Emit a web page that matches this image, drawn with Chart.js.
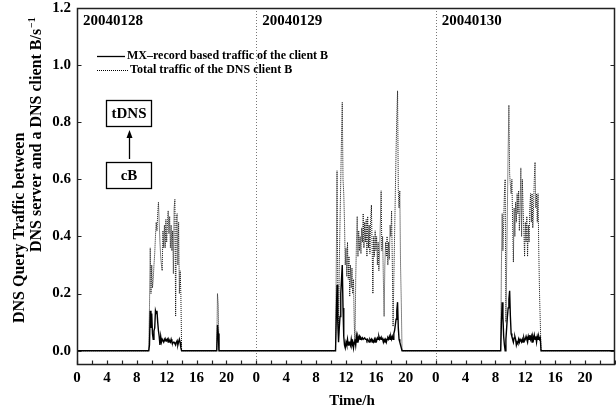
<!DOCTYPE html>
<html>
<head>
<meta charset="utf-8">
<script src="https://cdn.jsdelivr.net/npm/chart.js@4.4.0/dist/chart.umd.min.js"></script>
<style>
  html, body { margin: 0; padding: 0; background: #fff; }
  canvas { display: block; }
</style>
</head>
<body>
<canvas id="dnsChart" width="616" height="411"></canvas>
<script>
// time in hours since 0:00 on 20040128
const hours = [
    0,
    9.6, 9.7, 9.8, 9.9, 10.0, 10.1, 10.2, 10.3, 10.4, 10.5, 10.6, 10.7, 10.8, 10.9, 11.0,
    11.1, 11.2, 11.3, 11.4, 11.5, 11.6, 11.7, 11.8, 11.9, 12.0, 12.1, 12.2, 12.3, 12.4, 12.5,
    12.6, 12.7, 12.8, 12.9, 13.0, 13.1, 13.2, 13.3, 13.4, 13.5, 13.6, 13.7, 13.8, 13.9, 14.0,
    18.7, 18.8, 18.9, 19.0,
    34.6, 34.7, 34.8, 34.9, 35.0, 35.1, 35.2, 35.3, 35.4, 35.5, 35.6, 35.7, 35.8, 35.9, 36.0,
    36.1, 36.2, 36.3, 36.4, 36.5, 36.6, 36.7, 36.8, 36.9, 37.0, 37.1, 37.2, 37.3, 37.4, 37.5,
    37.6, 37.7, 37.8, 37.9, 38.0, 38.1, 38.2, 38.3, 38.4, 38.5, 38.6, 38.7, 38.8, 38.9, 39.0,
    39.1, 39.2, 39.3, 39.4, 39.5, 39.6, 39.7, 39.8, 39.9, 40.0, 40.1, 40.2, 40.3, 40.4, 40.5,
    40.6, 40.7, 40.8, 40.9, 41.0, 41.1, 41.2, 41.3, 41.4, 41.5, 41.6, 41.7, 41.8, 41.9, 42.0,
    42.1, 42.2, 42.3, 42.4, 42.5, 42.6, 42.7, 42.8, 42.9, 43.0, 43.1, 43.2, 43.3, 43.4, 43.5,
    56.7, 56.8, 56.9, 57.0, 57.1, 57.2, 57.3, 57.4, 57.5, 57.6, 57.7, 57.8, 57.9, 58.0, 58.1,
    58.2, 58.3, 58.4, 58.5, 58.6, 58.7, 58.8, 58.9, 59.0, 59.1, 59.2, 59.3, 59.4, 59.5, 59.6,
    59.7, 59.8, 59.9, 60.0, 60.1, 60.2, 60.3, 60.4, 60.5, 60.6, 60.7, 60.8, 60.9, 61.0, 61.1,
    61.2, 61.3, 61.4, 61.5, 61.6, 61.7, 61.8, 61.9, 62.0, 62.1,
    72
];

// MX-record based traffic of the client B
const mxTraffic = [
    0,
    0, 0.02, 0.14, 0.08, 0.13, 0.06, 0.04, 0.07, 0.08, 0.14, 0.13, 0.14, 0.1, 0.07, 0.05,
    0.02, 0.05, 0.03, 0.04, 0.04, 0.03, 0.04, 0.035, 0.04, 0.035, 0.04, 0.03, 0.04, 0.035, 0.03,
    0.04, 0.03, 0.025, 0.03, 0.03, 0.025, 0.02, 0.03, 0.035, 0.02, 0.03, 0.04, 0.03, 0.01, 0,
    0, 0.09, 0.06, 0,
    0, 0.12, 0.23, 0.1, 0.03, 0.08, 0.12, 0.2, 0.25, 0.3, 0.15, 0.05, 0.02, 0.01, 0.03,
    0.02, 0.04, 0.02, 0.03, 0.03, 0.02, 0.04, 0.02, 0.03, 0.01, 0.03, 0.04, 0.02, 0.05, 0.03,
    0.05, 0.04, 0.05, 0.04, 0.045, 0.04, 0.045, 0.04, 0.04, 0.045, 0.04, 0.04, 0.035, 0.04, 0.035,
    0.03, 0.04, 0.035, 0.04, 0.03, 0.035, 0.03, 0.04, 0.03, 0.04, 0.035, 0.045, 0.04, 0.05, 0.04,
    0.045, 0.04, 0.045, 0.04, 0.03, 0.04, 0.035, 0.04, 0.03, 0.04, 0.045, 0.04, 0.05, 0.04, 0.05,
    0.04, 0.05, 0.04, 0.06, 0.07, 0.09, 0.11, 0.14, 0.17, 0.08, 0.04, 0.03, 0.02, 0.01, 0,
    0, 0.1, 0.17, 0.12, 0.05, 0.02, 0, 0.04, 0.08, 0.12, 0.15, 0.18, 0.21, 0.12, 0.06,
    0.05, 0.04, 0.03, 0.045, 0.05, 0.04, 0.02, 0.03, 0.025, 0.04, 0.03, 0.04, 0.035, 0.03, 0.04,
    0.03, 0.045, 0.035, 0.04, 0.05, 0.04, 0.03, 0.05, 0.04, 0.055, 0.04, 0.05, 0.03, 0.05, 0.04,
    0.055, 0.04, 0.05, 0.03, 0.05, 0.04, 0.05, 0.04, 0.045, 0,
    0
];

// Total traffic of the DNS client B
const totalTraffic = [
    0,
    0, 0.15, 0.36, 0.2, 0.3, 0.22, 0.25, 0.3, 0.34, 0.4, 0.45, 0.42, 0.48, 0.52, 0.45,
    0.38, 0.33, 0.3, 0.28, 0.42, 0.36, 0.44, 0.36, 0.46, 0.38, 0.44, 0.49, 0.41, 0.47, 0.36,
    0.44, 0.35, 0.42, 0.27, 0.5, 0.53, 0.12, 0.46, 0.48, 0.3, 0.45, 0.2, 0.28, 0.2, 0,
    0, 0.2, 0.16, 0,
    0, 0.3, 0.63, 0.2, 0.05, 0.3, 0.45, 0.6, 0.75, 0.87, 0.6, 0.55, 0.45, 0.3, 0.36,
    0.26, 0.38, 0.25, 0.33, 0.19, 0.3, 0.22, 0.29, 0.2, 0.25, 0.1, 0.02, 0.25, 0.38, 0.47,
    0.33, 0.42, 0.35, 0.4, 0.34, 0.43, 0.38, 0.48, 0.36, 0.45, 0.38, 0.46, 0.33, 0.47, 0.36,
    0.44, 0.34, 0.46, 0.51, 0.36, 0.2, 0.4, 0.33, 0.42, 0.35, 0.4, 0.3, 0.38, 0.28, 0.35,
    0.45, 0.56, 0.35, 0.4, 0.25, 0.12, 0.3, 0.38, 0.33, 0.4, 0.3, 0.38, 0.32, 0.44, 0.4,
    0.49, 0.3, 0.085, 0.25, 0.4, 0.55, 0.7, 0.82, 0.91, 0.56, 0.5, 0.56, 0.3, 0.17, 0,
    0, 0.3, 0.48, 0.35, 0.45, 0.55, 0.6, 0.1, 0.3, 0.5, 0.7, 0.86, 0.62, 0.58, 0.55,
    0.6, 0.45, 0.31, 0.5, 0.4, 0.52, 0.45, 0.55, 0.48, 0.56, 0.42, 0.5, 0.64, 0.4, 0.6,
    0.5, 0.42, 0.33, 0.45, 0.38, 0.47, 0.33, 0.44, 0.38, 0.5, 0.55, 0.45, 0.55, 0.43, 0.5,
    0.6, 0.66, 0.5, 0.55, 0.45, 0.55, 0.35, 0.2, 0.1, 0,
    0
];

const xTickHours = [0, 2, 4, 6, 8, 10, 12, 14, 16, 18, 20, 22, 24, 26, 28, 30, 32, 34, 36,
    38, 40, 42, 44, 46, 48, 50, 52, 54, 56, 58, 60, 62, 64, 66, 68, 70, 72];
const yTickValues = [0, 0.2, 0.4, 0.6, 0.8, 1.0, 1.2];
const dayStarts = [0, 24, 48];
const dayLabels = ['20040128', '20040129', '20040130'];
const legendLabels = ['MX\u2013record based traffic of the client B', 'Total traffic of the DNS client B'];

const serif = "'Liberation Serif', 'Times New Roman', serif";
Chart.defaults.font.family = serif;
Chart.defaults.font.size = 15;
Chart.defaults.font.weight = 'bold';
Chart.defaults.color = '#000';

// frame, inward ticks, day separators and the annotations
const overlay = {
    id: 'overlay',
    beforeDatasetsDraw(chart) {
        const { ctx, scales: { x, y } } = chart;
        ctx.save();
        ctx.strokeStyle = '#777';
        ctx.lineWidth = 1;
        ctx.setLineDash([1, 2]);
        dayStarts.slice(1).forEach(h => {
            const px = Math.round(x.getPixelForValue(h)) + 0.5;
            ctx.beginPath();
            ctx.moveTo(px, y.top);
            ctx.lineTo(px, y.bottom);
            ctx.stroke();
        });
        ctx.restore();
    },
    afterDraw(chart) {
        const { ctx, scales: { x, y } } = chart;
        const L = Math.round(x.getPixelForValue(0)) + 0.5;
        const R = Math.min(Math.round(x.getPixelForValue(72)), 615) - 0.5;
        const T = Math.round(y.getPixelForValue(1.2)) + 0.5;
        const B = Math.round(y.getPixelForValue(-0.05)) - 0.5;
        ctx.save();

        // frame
        ctx.strokeStyle = '#222';
        ctx.lineWidth = 1.5;
        ctx.beginPath();
        ctx.moveTo(L, T);
        ctx.lineTo(R, T);
        ctx.lineTo(R, B);
        ctx.lineTo(L, B);
        ctx.closePath();
        ctx.stroke();

        // ticks pointing into the plot
        ctx.lineWidth = 1.2;
        ctx.beginPath();
        x.ticks.forEach(t => {
            const px = Math.round(x.getPixelForValue(t.value)) + 0.5;
            ctx.moveTo(px, B);
            ctx.lineTo(px, B - 4);
        });
        y.ticks.forEach(t => {
            const py = Math.round(y.getPixelForValue(t.value)) + 0.5;
            ctx.moveTo(L, py);
            ctx.lineTo(L + 4, py);
            ctx.moveTo(R, py);
            ctx.lineTo(R - 4, py);
        });
        ctx.stroke();

        ctx.fillStyle = '#000';

        // day labels
        ctx.font = 'bold 15px ' + serif;
        ctx.textAlign = 'left';
        ctx.textBaseline = 'middle';
        dayStarts.forEach((h, i) => {
            ctx.fillText(dayLabels[i], x.getPixelForValue(h) + 6, 21);
        });

        // legend
        ctx.lineWidth = 1.3;
        ctx.strokeStyle = '#000';
        ctx.beginPath();
        ctx.moveTo(97, 56.5);
        ctx.lineTo(125, 56.5);
        ctx.stroke();
        ctx.lineWidth = 1;
        ctx.setLineDash([1, 1]);
        ctx.beginPath();
        ctx.moveTo(97, 70.5);
        ctx.lineTo(128, 70.5);
        ctx.stroke();
        ctx.setLineDash([]);
        ctx.font = 'bold 12px ' + serif;
        ctx.fillText(legendLabels[0], 127, 56);
        ctx.fillText(legendLabels[1], 130, 70);

        // tDNS <- cB boxes
        ctx.lineWidth = 1.3;
        ctx.strokeRect(106.5, 100.5, 45, 26);
        ctx.strokeRect(106.5, 162.5, 45, 26);
        ctx.font = 'bold 15px ' + serif;
        ctx.textAlign = 'center';
        ctx.fillText('tDNS', 129, 114);
        ctx.fillText('cB', 129, 176);
        ctx.beginPath();
        ctx.moveTo(129.5, 159);
        ctx.lineTo(129.5, 136);
        ctx.stroke();
        ctx.beginPath();
        ctx.moveTo(129.5, 130);
        ctx.lineTo(126.5, 138);
        ctx.lineTo(132.5, 138);
        ctx.closePath();
        ctx.fill();

        // x title
        ctx.font = 'bold 15px ' + serif;
        ctx.fillText('Time/h', 352, 401);

        // y title, two rotated lines
        ctx.font = 'bold 16px ' + serif;
        ctx.textAlign = 'left';
        ctx.save();
        ctx.translate(20, 323);
        ctx.rotate(-Math.PI / 2);
        ctx.fillText('DNS Query Traffic between', 0, 0);
        ctx.restore();
        ctx.save();
        ctx.translate(37, 252);
        ctx.rotate(-Math.PI / 2);
        const main = 'DNS server and a DNS client B/s';
        ctx.fillText(main, 0, 0);
        const w = ctx.measureText(main).width;
        ctx.font = 'bold 10px ' + serif;
        ctx.fillText('\u22121', w + 1, -5);
        ctx.restore();

        ctx.restore();
    }
};

function renderChart() {
    const ctx = document.getElementById('dnsChart').getContext('2d');
    new Chart(ctx, {
        type: 'line',
        data: {
            datasets: [
                {
                    label: legendLabels[0],
                    data: hours.map((h, i) => ({ x: h, y: mxTraffic[i] })),
                    borderColor: '#000',
                    borderWidth: 1.4,
                    pointRadius: 0,
                    tension: 0,
                },
                {
                    label: legendLabels[1],
                    data: hours.map((h, i) => ({ x: h, y: totalTraffic[i] })),
                    borderColor: '#111',
                    borderWidth: 1,
                    borderDash: [1, 1],
                    pointRadius: 0,
                    tension: 0,
                },
            ],
        },
        options: {
            responsive: false,
            animation: false,
            devicePixelRatio: 1,
            layout: { autoPadding: false, padding: { top: 8, right: 1, left: 0, bottom: 0 } },
            plugins: {
                legend: { display: false },
                tooltip: { enabled: false },
            },
            scales: {
                x: {
                    type: 'linear',
                    min: 0,
                    max: 72,
                    grid: { display: false, drawTicks: false },
                    border: { display: false },
                    afterBuildTicks: scale => {
                        scale.ticks = xTickHours.map(v => ({ value: v }));
                    },
                    afterFit: scale => {
                        scale.height = 46;
                        scale.paddingLeft = 0;
                        scale.paddingRight = 0;
                    },
                    ticks: {
                        autoSkip: false,
                        maxRotation: 0,
                        padding: 4,
                        callback: v => (v % 4 === 0 && v < 72 ? String(v % 24) : ''),
                    },
                },
                y: {
                    min: -0.05,
                    max: 1.2,
                    grid: { display: false, drawTicks: false },
                    border: { display: false },
                    afterBuildTicks: scale => {
                        scale.ticks = yTickValues.map(v => ({ value: v }));
                    },
                    afterFit: scale => {
                        scale.width = 77;
                        scale.paddingTop = 0;
                        scale.paddingBottom = 0;
                    },
                    ticks: {
                        padding: 6,
                        callback: v => v.toFixed(1),
                    },
                },
            },
        },
        plugins: [overlay],
    });
}

renderChart();
</script>
</body>
</html>
